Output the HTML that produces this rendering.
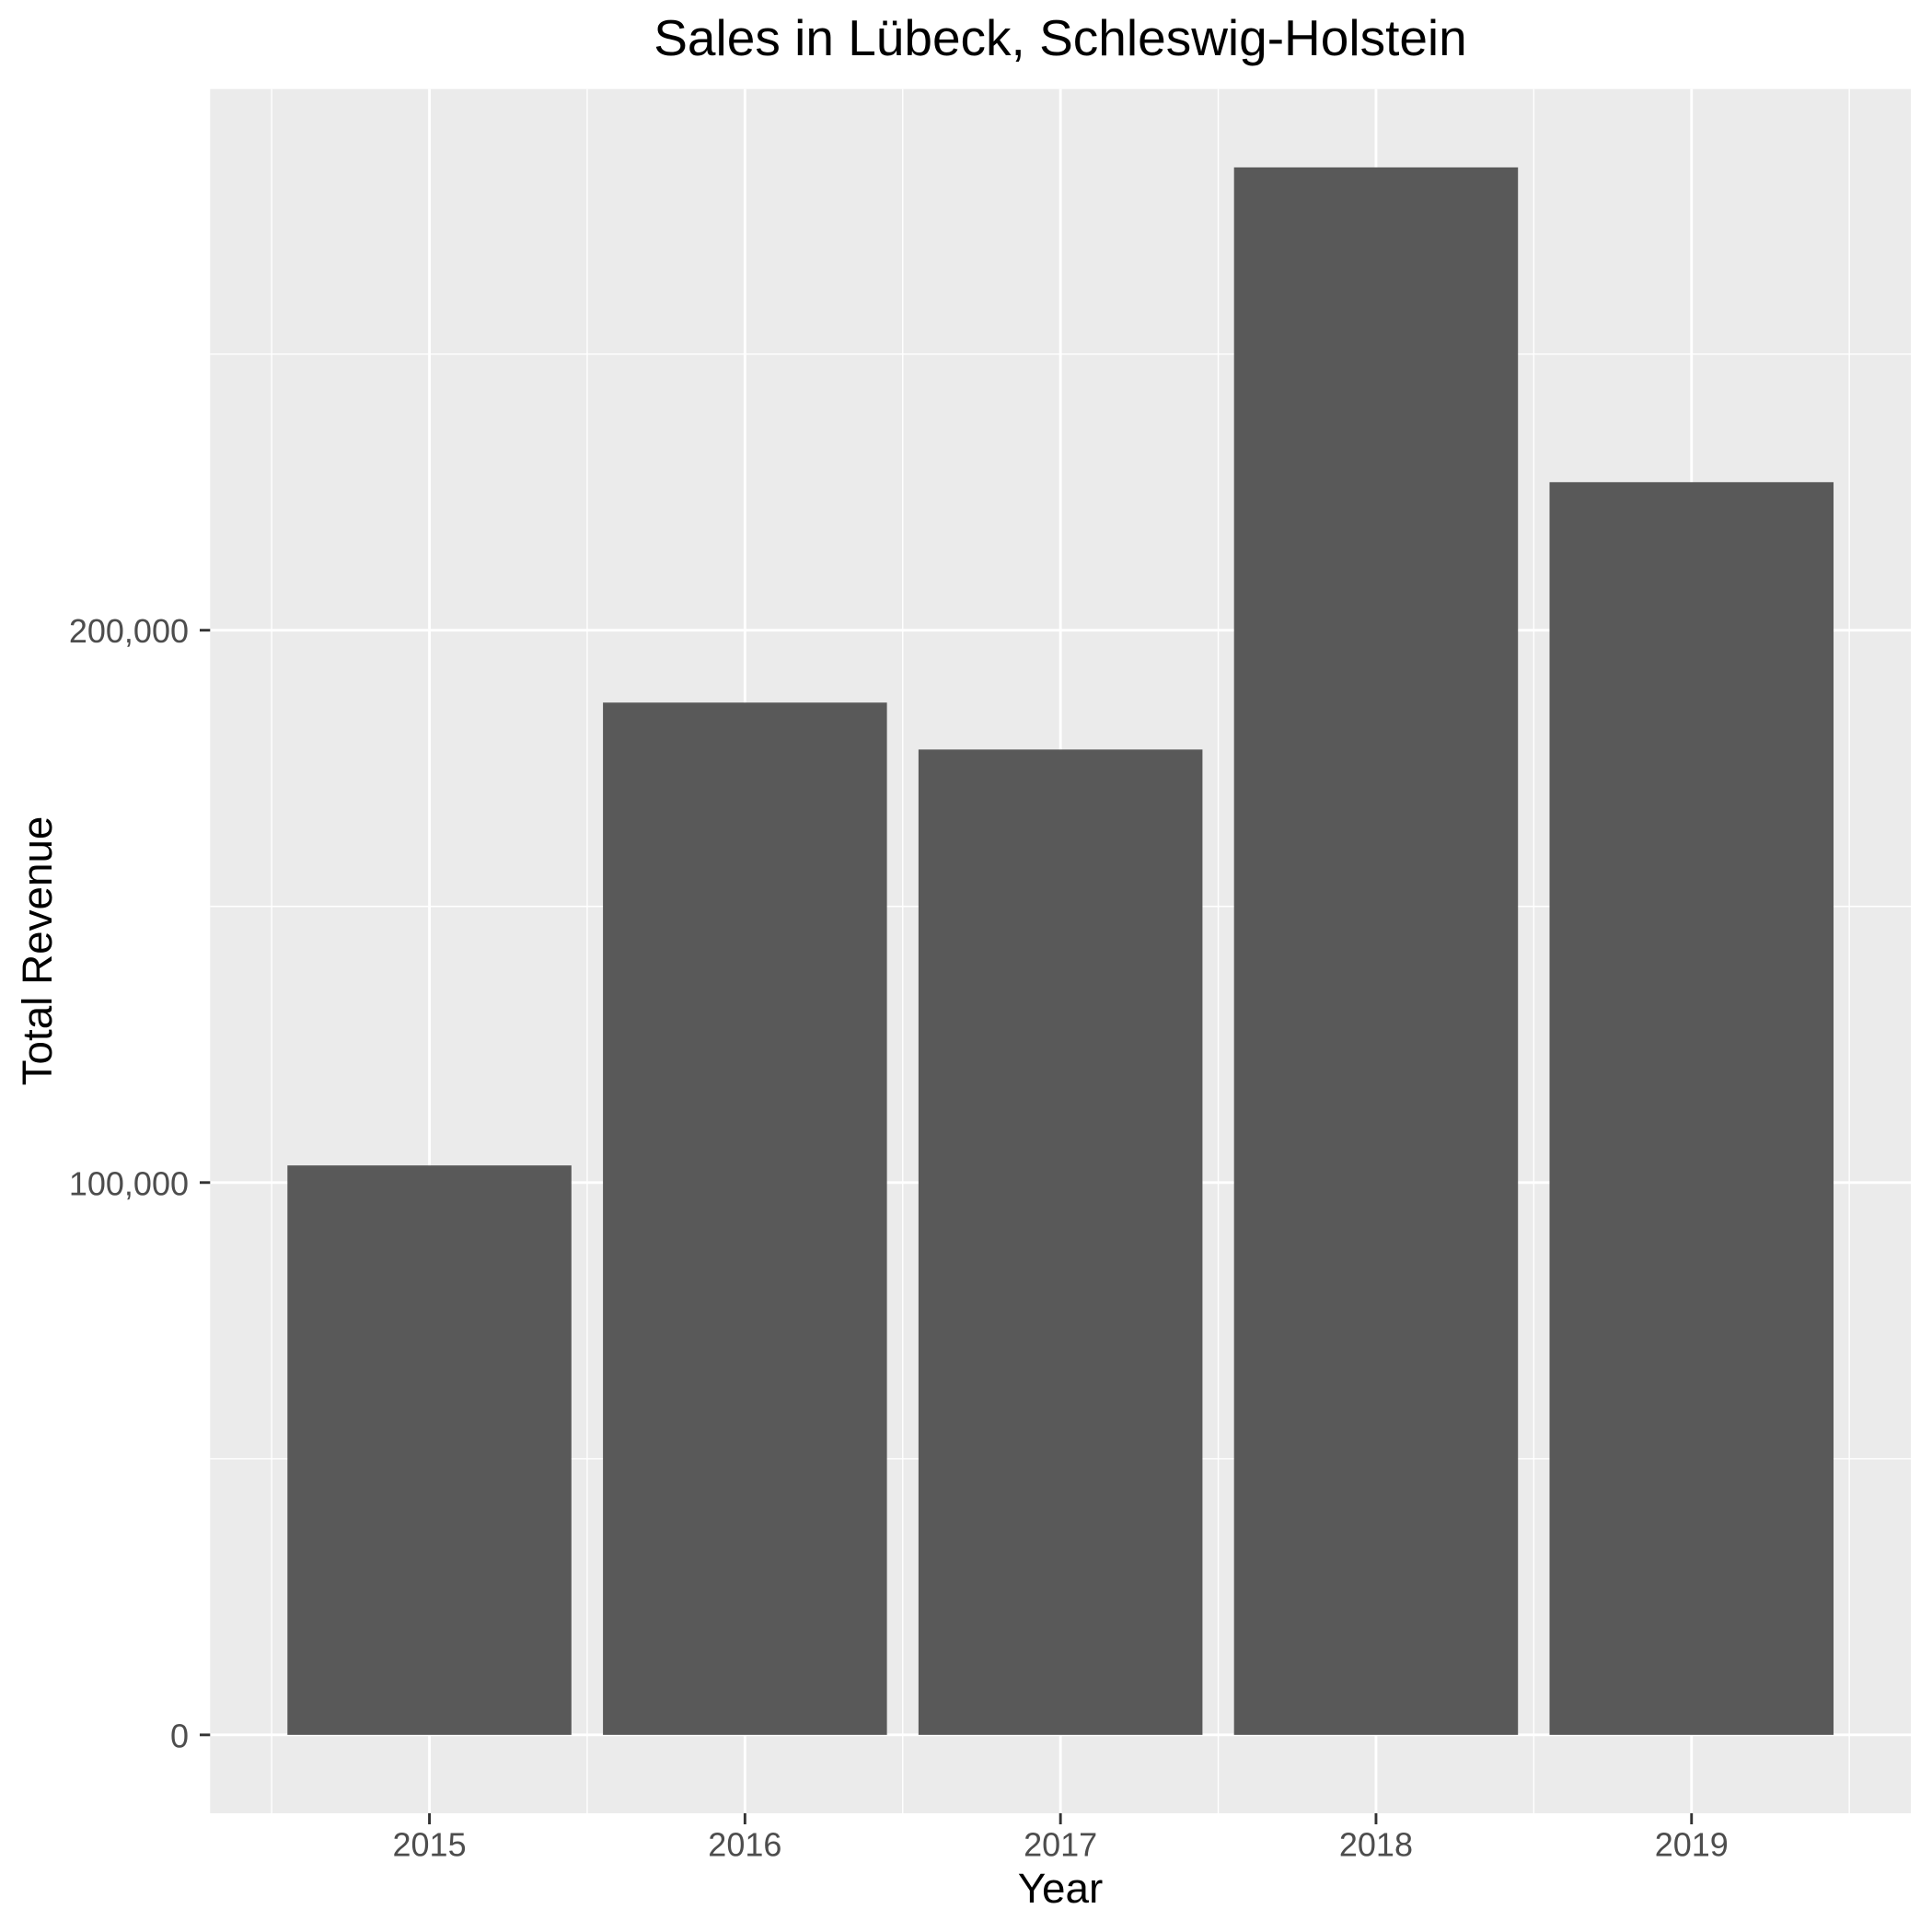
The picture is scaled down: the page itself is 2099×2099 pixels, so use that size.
<!DOCTYPE html>
<html><head><meta charset="utf-8"><style>
html,body{margin:0;padding:0;background:#fff;}
svg{display:block;font-family:"Liberation Sans",Arial,sans-serif;}
</style></head><body>
<svg id="chart" width="2099" height="2099" viewBox="0 0 2099 2099" xmlns="http://www.w3.org/2000/svg">
<rect x="0" y="0" width="2099" height="2099" fill="#fff"/>
<rect x="228.3" y="96.7" width="1847.7" height="1873.3" fill="#EBEBEB"/>
<g id="grid"></g>
<g id="bars"></g>
<g id="axes"></g>
<text x="1152" y="60" text-anchor="middle" font-size="55" fill="#000">Sales in Lübeck, Schleswig-Holstein</text>
<text x="1152" y="2067" text-anchor="middle" font-size="45.8" fill="#000">Year</text>
<text x="0" y="0" transform="translate(56,1033) rotate(-90)" text-anchor="middle" font-size="45.8" fill="#000">Total Revenue</text>
</svg>
<script>
const categories = ["2015","2016","2017","2018","2019"];
const revenue = [103100, 186900, 178400, 283800, 226800];
const yTicks = [0, 100000, 200000];
const yTickLabels = ["0","100,000","200,000"];
const yMinor = [50000, 150000, 250000];

const NS = "http://www.w3.org/2000/svg";
const pLeft = 228.3, pRight = 2076, pTop = 96.7, pBottom = 1970;
const yMax = Math.max(...revenue);
const yLo = -0.05 * yMax, yHi = 1.05 * yMax;
function yScale(v){ return pBottom - (v - yLo) / (yHi - yLo) * (pBottom - pTop); }
const nCat = categories.length;
const xPad = 0.695;
function xScale(i){ return pLeft + (i + xPad) / (nCat - 1 + 2 * xPad) * (pRight - pLeft); }
const step = xScale(1) - xScale(0);

function mk(tag, attrs, parent){ const e = document.createElementNS(NS, tag); for (const k in attrs) e.setAttribute(k, attrs[k]); parent.appendChild(e); return e; }
const grid = document.getElementById('grid');
const bars = document.getElementById('bars');
const axes = document.getElementById('axes');

yMinor.forEach(v => {
  const l = mk('line', {x1:pLeft, x2:pRight, y1:yScale(v), y2:yScale(v), stroke:'#fff', 'stroke-width':1.45}, grid);
  
  
});
for (let i = -1; i < nCat; i++) {
  const xv = xScale(i) + step / 2;
  const l = mk('line', {x1:xv, x2:xv, y1:pTop, y2:pBottom, stroke:'#fff', 'stroke-width':1.45}, grid);
  
  
}
yTicks.forEach((v, k) => {
  const l = mk('line', {x1:pLeft, x2:pRight, y1:yScale(v), y2:yScale(v), stroke:'#fff', 'stroke-width':2.9}, grid);
  
  
  const t = mk('line', {x1:217, x2:pLeft, y1:yScale(v), y2:yScale(v), stroke:'#333', 'stroke-width':2.9}, axes);
  
  
  const tx = mk('text', {x:205, y:yScale(v) + 13.5, 'text-anchor':'end', 'font-size':36, fill:'#4D4D4D'}, axes);
  tx.textContent = yTickLabels[k];
  
  
});
categories.forEach((c, i) => {
  const l = mk('line', {x1:xScale(i), x2:xScale(i), y1:pTop, y2:pBottom, stroke:'#fff', 'stroke-width':2.9}, grid);
  
  
  const bw = step * 0.9;
  const b = mk('rect', {x:xScale(i) - bw / 2, y:yScale(revenue[i]), width:bw, height:yScale(0) - yScale(revenue[i]), fill:'#595959'}, bars);
  
  
  const t = mk('line', {x1:xScale(i), x2:xScale(i), y1:pBottom, y2:pBottom + 12, stroke:'#333', 'stroke-width':2.9}, axes);
  
  
  const tx = mk('text', {x:xScale(i), y:2016.5, 'text-anchor':'middle', 'font-size':36, fill:'#4D4D4D'}, axes);
  tx.textContent = c;
  
  
});
</script>
</body></html>
